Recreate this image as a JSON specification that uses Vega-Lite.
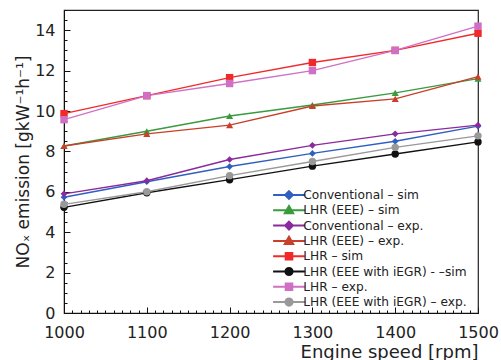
{
  "$schema": "https://vega.github.io/schema/vega-lite/v6.json",
  "width": 414,
  "height": 303,
  "autosize": "none",
  "padding": {"left": 64, "top": 10, "right": 23, "bottom": 47},
  "background": "white",
  "config": {
    "view": {"stroke": "#222", "strokeWidth": 1.2},
    "font": "DejaVu Sans",
    "axis": {"labelFont": "DejaVu Sans", "titleFont": "DejaVu Sans", "labelColor": "#222", "titleColor": "#222", "domainColor": "#111", "tickColor": "#111", "grid": false}
  },
  "data": {"values": [
    {"series": "Conventional – sim", "rpm": 1000, "nox": 5.73},
    {"series": "Conventional – sim", "rpm": 1100, "nox": 6.5},
    {"series": "Conventional – sim", "rpm": 1200, "nox": 7.25},
    {"series": "Conventional – sim", "rpm": 1300, "nox": 7.9},
    {"series": "Conventional – sim", "rpm": 1400, "nox": 8.5},
    {"series": "Conventional – sim", "rpm": 1500, "nox": 9.25},
    {"series": "LHR (EEE) – sim", "rpm": 1000, "nox": 8.27},
    {"series": "LHR (EEE) – sim", "rpm": 1100, "nox": 9.0},
    {"series": "LHR (EEE) – sim", "rpm": 1200, "nox": 9.75},
    {"series": "LHR (EEE) – sim", "rpm": 1300, "nox": 10.3},
    {"series": "LHR (EEE) – sim", "rpm": 1400, "nox": 10.9},
    {"series": "LHR (EEE) – sim", "rpm": 1500, "nox": 11.6},
    {"series": "Conventional – exp.", "rpm": 1000, "nox": 5.9},
    {"series": "Conventional – exp.", "rpm": 1100, "nox": 6.55},
    {"series": "Conventional – exp.", "rpm": 1200, "nox": 7.6},
    {"series": "Conventional – exp.", "rpm": 1300, "nox": 8.3},
    {"series": "Conventional – exp.", "rpm": 1400, "nox": 8.87},
    {"series": "Conventional – exp.", "rpm": 1500, "nox": 9.3},
    {"series": "LHR (EEE) – exp.", "rpm": 1000, "nox": 8.27},
    {"series": "LHR (EEE) – exp.", "rpm": 1100, "nox": 8.87},
    {"series": "LHR (EEE) – exp.", "rpm": 1200, "nox": 9.3},
    {"series": "LHR (EEE) – exp.", "rpm": 1300, "nox": 10.25},
    {"series": "LHR (EEE) – exp.", "rpm": 1400, "nox": 10.6},
    {"series": "LHR (EEE) – exp.", "rpm": 1500, "nox": 11.7},
    {"series": "LHR – sim", "rpm": 1000, "nox": 9.87},
    {"series": "LHR – sim", "rpm": 1100, "nox": 10.76},
    {"series": "LHR – sim", "rpm": 1200, "nox": 11.65},
    {"series": "LHR – sim", "rpm": 1300, "nox": 12.4},
    {"series": "LHR – sim", "rpm": 1400, "nox": 13.0},
    {"series": "LHR – sim", "rpm": 1500, "nox": 13.85},
    {"series": "LHR (EEE with iEGR) - –sim", "rpm": 1000, "nox": 5.23},
    {"series": "LHR (EEE with iEGR) - –sim", "rpm": 1100, "nox": 5.95},
    {"series": "LHR (EEE with iEGR) - –sim", "rpm": 1200, "nox": 6.6},
    {"series": "LHR (EEE with iEGR) - –sim", "rpm": 1300, "nox": 7.27},
    {"series": "LHR (EEE with iEGR) - –sim", "rpm": 1400, "nox": 7.87},
    {"series": "LHR (EEE with iEGR) - –sim", "rpm": 1500, "nox": 8.47},
    {"series": "LHR – exp.", "rpm": 1000, "nox": 9.57},
    {"series": "LHR – exp.", "rpm": 1100, "nox": 10.76},
    {"series": "LHR – exp.", "rpm": 1200, "nox": 11.36},
    {"series": "LHR – exp.", "rpm": 1300, "nox": 12.0},
    {"series": "LHR – exp.", "rpm": 1400, "nox": 13.0},
    {"series": "LHR – exp.", "rpm": 1500, "nox": 14.2},
    {"series": "LHR (EEE with iEGR) – exp.", "rpm": 1000, "nox": 5.38},
    {"series": "LHR (EEE with iEGR) – exp.", "rpm": 1100, "nox": 6.0},
    {"series": "LHR (EEE with iEGR) – exp.", "rpm": 1200, "nox": 6.8},
    {"series": "LHR (EEE with iEGR) – exp.", "rpm": 1300, "nox": 7.5},
    {"series": "LHR (EEE with iEGR) – exp.", "rpm": 1400, "nox": 8.2},
    {"series": "LHR (EEE with iEGR) – exp.", "rpm": 1500, "nox": 8.77}
  ]},
  "resolve": {"axis": {"x": "independent", "y": "independent"}, "scale": {"shape": "independent", "fill": "independent", "stroke": "independent"}},
  "layer": [
    {
      "mark": {"type": "line", "strokeWidth": 1.4},
      "encoding": {
        "x": {"field": "rpm", "type": "quantitative", "scale": {"domain": [1000, 1500], "nice": false},
              "axis": {"orient": "bottom", "values": [1000, 1100, 1200, 1300, 1400, 1500], "format": "d", "tickSize": -6, "labelPadding": 17, "labelFontSize": 16, "title": "Engine speed [rpm]", "titleFontSize": 18, "titleFontWeight": "normal", "titleAnchor": "end", "titlePadding": 3, "labelFlush": false}},
        "y": {"field": "nox", "type": "quantitative", "scale": {"domain": [0, 15], "nice": false},
              "axis": {"orient": "left", "values": [0, 2, 4, 6, 8, 10, 12, 14], "tickSize": -6, "labelPadding": 15, "labelFontSize": 16, "title": "NOₓ emission [gkW⁻¹h⁻¹]", "titleFontSize": 17, "titleFontWeight": "normal", "titlePadding": 2}},
        "color": {"field": "series", "type": "nominal", "legend": null,
                  "scale": {"domain": ["Conventional – sim", "LHR (EEE) – sim", "Conventional – exp.", "LHR (EEE) – exp.", "LHR – sim", "LHR (EEE with iEGR) - –sim", "LHR – exp.", "LHR (EEE with iEGR) – exp."],
                            "range": ["#2f5fc0", "#3a9a3e", "#8a2a9e", "#c8402a", "#f02a2a", "#111111", "#d070c4", "#999999"]}}
      }
    },
    {
      "transform": [{"filter": {"field": "series", "oneOf": ["Conventional – sim", "Conventional – exp."]}}],
      "mark": {"type": "point", "shape": "diamond", "filled": true, "opacity": 1, "size": 45},
      "encoding": {
        "x": {"field": "rpm", "type": "quantitative", "axis": null},
        "y": {"field": "nox", "type": "quantitative", "axis": null},
        "color": {"field": "series", "type": "nominal", "legend": null}
      }
    },
    {
      "transform": [{"filter": {"field": "series", "oneOf": ["LHR (EEE) – sim", "LHR (EEE) – exp."]}}],
      "mark": {"type": "point", "shape": "triangle-up", "filled": true, "opacity": 1, "size": 50},
      "encoding": {
        "x": {"field": "rpm", "type": "quantitative", "axis": null},
        "y": {"field": "nox", "type": "quantitative", "axis": null},
        "color": {"field": "series", "type": "nominal", "legend": null}
      }
    },
    {
      "transform": [{"filter": {"field": "series", "oneOf": ["LHR – sim", "LHR – exp."]}}],
      "mark": {"type": "point", "shape": "square", "filled": true, "opacity": 1, "size": 55},
      "encoding": {
        "x": {"field": "rpm", "type": "quantitative", "axis": null},
        "y": {"field": "nox", "type": "quantitative", "axis": null},
        "color": {"field": "series", "type": "nominal", "legend": null}
      }
    },
    {
      "transform": [{"filter": {"field": "series", "oneOf": ["LHR (EEE with iEGR) - –sim", "LHR (EEE with iEGR) – exp."]}}],
      "mark": {"type": "point", "shape": "circle", "filled": true, "opacity": 1, "size": 55},
      "encoding": {
        "x": {"field": "rpm", "type": "quantitative", "axis": null},
        "y": {"field": "nox", "type": "quantitative", "axis": null},
        "color": {"field": "series", "type": "nominal", "legend": null}
      }
    },
    {
      "mark": {"type": "point", "opacity": 0, "strokeWidth": 2},
      "encoding": {
        "x": {"field": "rpm", "type": "quantitative",
              "axis": {"orient": "bottom", "values": [1000,1010,1020,1030,1040,1050,1060,1070,1080,1090,1100,1110,1120,1130,1140,1150,1160,1170,1180,1190,1200,1210,1220,1230,1240,1250,1260,1270,1280,1290,1300,1310,1320,1330,1340,1350,1360,1370,1380,1390,1400,1410,1420,1430,1440,1450,1460,1470,1480,1490,1500], "tickSize": -3, "labels": false, "domain": false, "title": null}},
        "y": {"field": "nox", "type": "quantitative",
              "axis": {"orient": "left", "values": [0,0.5,1,1.5,2,2.5,3,3.5,4,4.5,5,5.5,6,6.5,7,7.5,8,8.5,9,9.5,10,10.5,11,11.5,12,12.5,13,13.5,14,14.5,15], "tickSize": -3, "labels": false, "domain": false, "title": null}},
        "fill": {"field": "series", "type": "nominal",
                 "scale": {"domain": ["Conventional – sim", "LHR (EEE) – sim", "Conventional – exp.", "LHR (EEE) – exp.", "LHR – sim", "LHR (EEE with iEGR) - –sim", "LHR – exp.", "LHR (EEE with iEGR) – exp."],
                           "range": ["#2f5fc0", "#3a9a3e", "#8a2a9e", "#c8402a", "#f02a2a", "#111111", "#d070c4", "#999999"]},
                 "legend": {"title": null, "orient": "none", "legendX": 206, "legendY": 179, "symbolSize": 36, "symbolStrokeWidth": 2, "symbolOpacity": 1, "clipHeight": 12, "labelOffset": 21, "labelFont": "DejaVu Sans", "labelFontSize": 12.2, "labelColor": "#222", "rowPadding": 2.3, "labelLimit": 300}},
        "stroke": {"field": "series", "type": "nominal",
                 "scale": {"domain": ["Conventional – sim", "LHR (EEE) – sim", "Conventional – exp.", "LHR (EEE) – exp.", "LHR – sim", "LHR (EEE with iEGR) - –sim", "LHR – exp.", "LHR (EEE with iEGR) – exp."],
                           "range": ["#2f5fc0", "#3a9a3e", "#8a2a9e", "#c8402a", "#f02a2a", "#111111", "#d070c4", "#999999"]},
                 "legend": {"title": null, "orient": "none", "legendX": 206, "legendY": 179, "symbolSize": 36, "symbolStrokeWidth": 2, "symbolOpacity": 1, "clipHeight": 12, "labelOffset": 21, "labelFont": "DejaVu Sans", "labelFontSize": 12.2, "labelColor": "#222", "rowPadding": 2.3, "labelLimit": 300}},
        "shape": {"field": "series", "type": "nominal",
                  "scale": {"domain": ["Conventional – sim", "LHR (EEE) – sim", "Conventional – exp.", "LHR (EEE) – exp.", "LHR – sim", "LHR (EEE with iEGR) - –sim", "LHR – exp.", "LHR (EEE with iEGR) – exp."],
                            "range": ["M-1,0L9.7,0M4.3,-1.3L5.6,0L4.3,1.3L3,0Z", "M-1,0L9.7,0M4.3,-1.4L5.7,1L2.9,1Z", "M-1,0L9.7,0M4.3,-1.3L5.6,0L4.3,1.3L3,0Z", "M-1,0L9.7,0M4.3,-1.4L5.7,1L2.9,1Z", "M-1,0L9.7,0M3.2,-1.1L5.4,-1.1L5.4,1.1L3.2,1.1Z", "M-1,0L9.7,0M5.5,0A1.2,1.2,0,1,1,3.1,0A1.2,1.2,0,1,1,5.5,0Z", "M-1,0L9.7,0M3.2,-1.1L5.4,-1.1L5.4,1.1L3.2,1.1Z", "M-1,0L9.7,0M5.5,0A1.2,1.2,0,1,1,3.1,0A1.2,1.2,0,1,1,5.5,0Z"]},
                  "legend": {"title": null, "orient": "none", "legendX": 206, "legendY": 179, "symbolSize": 36, "symbolStrokeWidth": 2, "symbolOpacity": 1, "clipHeight": 12, "labelOffset": 21, "labelFont": "DejaVu Sans", "labelFontSize": 12.2, "labelColor": "#222", "rowPadding": 2.3, "labelLimit": 300}}
      }
    }
  ]
}
